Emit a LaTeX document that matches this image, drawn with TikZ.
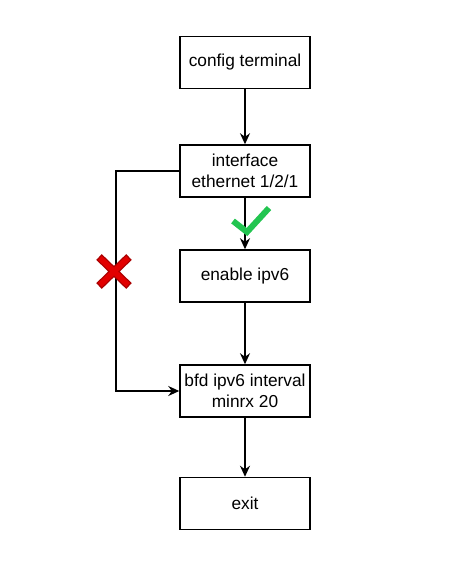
\documentclass[tikz,border=0pt]{standalone}
\usepackage{fontspec}
\setmainfont{Liberation Sans}
\usetikzlibrary{arrows.meta}
\definecolor{okgreen}{RGB}{34,197,80}
\definecolor{nored}{RGB}{226,0,0}
\definecolor{nodark}{RGB}{170,0,0}
\tikzset{
  cmd/.style={draw,line width=1.5pt,minimum width=130pt,minimum height=52pt,inner sep=0pt,align=center,font=\fontsize{17.3}{20.5}\selectfont},
  flow/.style={line width=1.5pt,-{Stealth[length=11pt,width=10pt]}}
}
\begin{document}
\begin{tikzpicture}[x=1pt,y=-1pt]
\useasboundingbox (0,0) rectangle (450,566);

\node[cmd] (conf) at (245,62.5) {config terminal};
\node[cmd] (intf) at (245,171) {interface\\ethernet 1/2/1};
\node[cmd] (ipv6) at (245,276) {enable ipv6};
\node[cmd] (bfd) at (245,391) {bfd ipv6 interval\\minrx 20};
\node[cmd] (exit) at (245,503.5) {exit};

\draw[flow] (conf) -- (intf);
\draw[flow] (intf) -- (ipv6);
\draw[flow] (ipv6) -- (bfd);
\draw[flow] (bfd) -- (exit);
\draw[flow] (intf.west) -| (116,280) |- (bfd.west);

% check mark
\draw[okgreen,line width=6pt] (233,221) -- (247,232) -- (269,208);
% cross
\draw[nodark,line width=8pt] (99,257) -- (129,286) (129,257) -- (99,286);
\draw[nored,line width=5.5pt] (100,258) -- (128,285) (128,258) -- (100,285);
\end{tikzpicture}
\end{document}
